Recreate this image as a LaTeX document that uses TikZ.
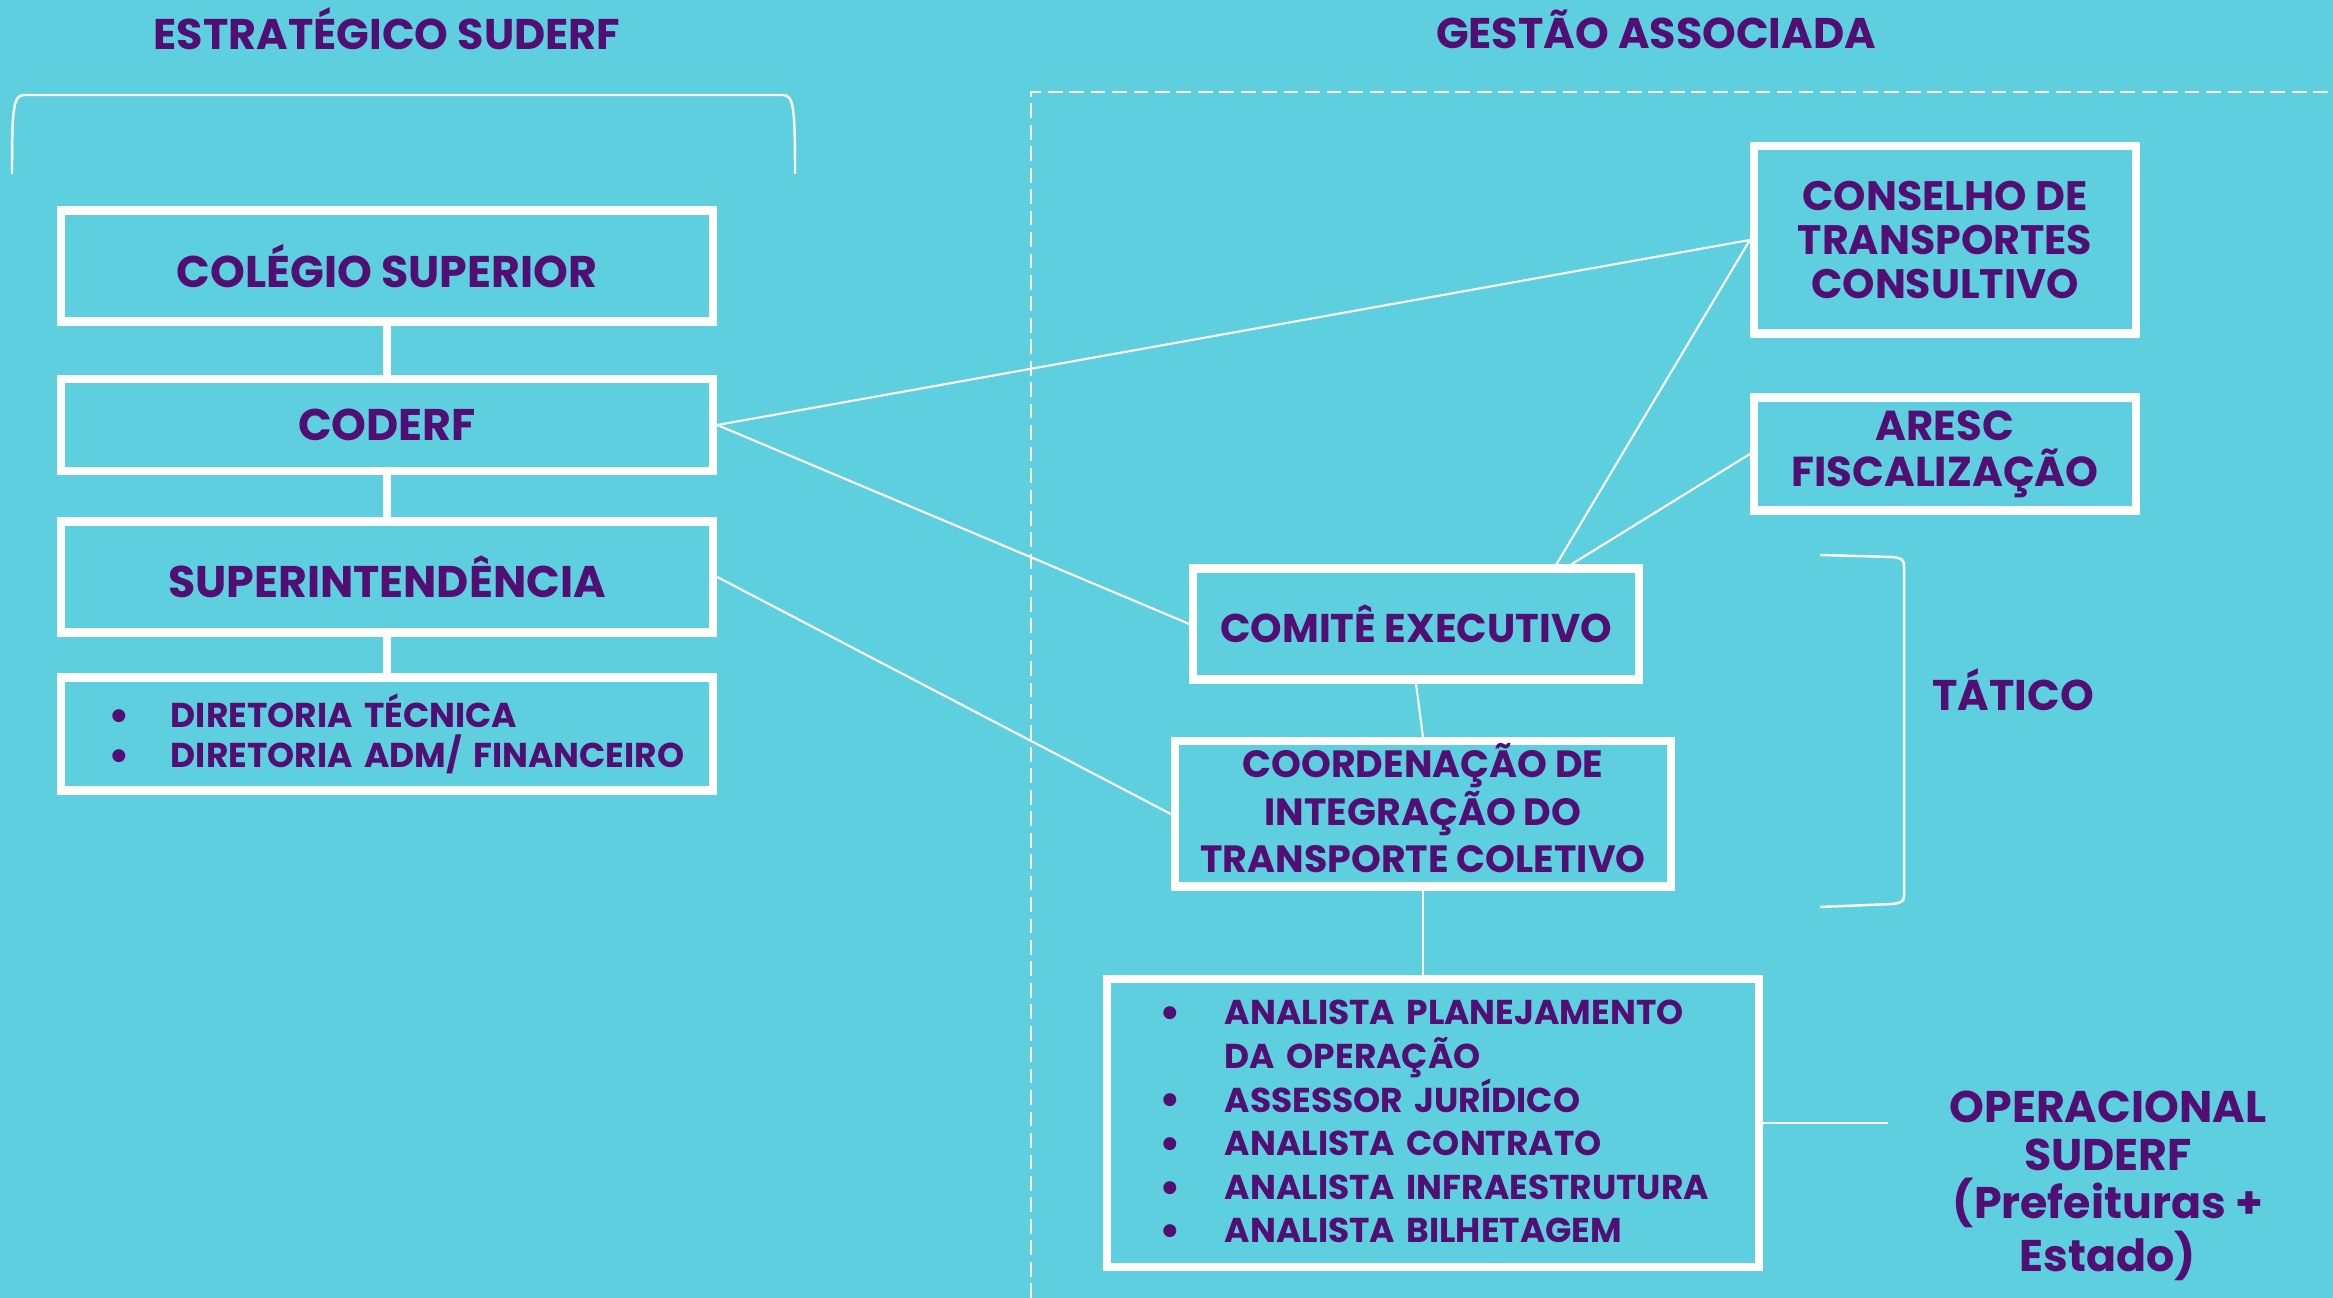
\documentclass[tikz,border=0pt]{standalone}
\usepackage{fontspec}
\setmainfont{Poppins}
\definecolor{fundo}{RGB}{94,207,223}
\definecolor{roxo}{RGB}{82,14,115}
\tikzset{
	caixa/.style={draw=white, line width=2.3pt, text=roxo, inner sep=0pt, align=center,
		font=\bfseries\fontsize{11.7}{12.4}\selectfont},
	grande/.style={font=\bfseries\fontsize{12.6}{14}\selectfont},
	lista/.style={caixa, align=left},
	fio/.style={draw=white, line width=0.6pt},
	haste/.style={draw=white, line width=2pt},
	titulo/.style={text=roxo, align=center, font=\bfseries\fontsize{12.2}{13.6}\selectfont}
}
\newcommand{\marca}[2]{\mbox{\makebox[#1][l]{\raisebox{-0.08em}{\scalebox{1.25}{\textbullet}}}#2}}

\begin{document}
\begin{tikzpicture}[x=0.01cm,y=-0.01cm]
	\fill[fundo] (0,0) rectangle (2333,1298);
	\useasboundingbox (0,0) rectangle (2333,1298);
	% titulos
	\node[titulo] (estrat) at (387,29) {ESTRATÉGICO SUDERF};
	\node[titulo] (gestao) at (1656,29) {GESTÃO ASSOCIADA};
	\draw[white, line width=0.7pt] (12,174) .. controls (12,110) and (13,95) .. (24,95) -- (783,95)
		.. controls (794,95) and (795,110) .. (795,174);
	\draw[white, line width=0.6pt, dash pattern=on 4.2pt off 1.9pt] (1031,1298) -- (1031,92) -- (2333,92);
	% lado estrategico
	\node[caixa, grande, minimum width=6.52cm, minimum height=1.11cm] (colegio) at (387,266) {COLÉGIO SUPERIOR};
	\node[caixa, grande, minimum width=6.52cm, minimum height=0.92cm] (coderf) at (387,425) {CODERF};
	\node[caixa, grande, minimum width=6.52cm, minimum height=1.11cm] (superint) at (387,577) {SUPERINTENDÊNCIA};
	\node[lista, minimum height=1.13cm, text width=5.56cm, inner xsep=0.48cm,
		font=\bfseries\fontsize{9.8}{11.2}\selectfont] (diretoria) at (387,734)
		{\marca{0.62cm}{DIRETORIA TÉCNICA}\\ \marca{0.62cm}{DIRETORIA ADM/ FINANCEIRO}};
	\draw[haste] (colegio) -- (coderf);
	\draw[haste] (coderf) -- (superint);
	\draw[haste] (superint) -- (diretoria);
	% gestao associada
	\node[caixa, minimum width=3.82cm, minimum height=1.87cm] (conselho) at (1945,240) {CONSELHO DE\\TRANSPORTES\\CONSULTIVO};
	\node[caixa, minimum width=3.82cm, minimum height=1.13cm,
		font=\bfseries\fontsize{11.9}{13.2}\selectfont] (aresc) at (1945,454) {ARESC\\FISCALIZAÇÃO};
	\node[caixa, minimum width=4.45cm, minimum height=1.11cm,
		font=\bfseries\fontsize{11.4}{12.4}\selectfont] (comite) at (1416,624) {COMITÊ EXECUTIVO};
	\node[caixa, minimum width=4.96cm, minimum height=1.45cm,
		font=\bfseries\fontsize{10.8}{13.6}\selectfont] (coord) at (1423,814)
		{COORDENAÇÃO DE\\INTEGRAÇÃO DO\\TRANSPORTE COLETIVO\\[-0.36cm]};
	\node[lista, minimum height=2.87cm, text width=5.46cm, inner xsep=0.53cm,
		font=\bfseries\fontsize{9.8}{12.4}\selectfont] (analistas) at (1433,1123)
		{\marca{0.65cm}{ANALISTA PLANEJAMENTO}\\ \mbox{\makebox[0.65cm]{}DA OPERAÇÃO}\\
		\marca{0.65cm}{ASSESSOR JURÍDICO}\\ \marca{0.65cm}{ANALISTA CONTRATO}\\
		\marca{0.65cm}{ANALISTA INFRAESTRUTURA}\\ \marca{0.65cm}{ANALISTA BILHETAGEM}};
	\node[titulo] (tatico) at (2013,690) {TÁTICO};
	\node[titulo, font=\bfseries\fontsize{12.6}{13.6}\selectfont] (operac) at (2108,1186)
		{OPERACIONAL\\SUDERF\\(Prefeituras +\\Estado)};
	\coordinate (fimop) at (1888,1123);
	\draw[white, line width=0.7pt] (1820,555) -- (1892,557) .. controls (1902,558) and (1904,560) .. (1904,566)
		-- (1904,896) .. controls (1904,902) and (1900,903) .. (1892,904) -- (1820,907);
	% ligacoes
	\draw[fio] (coderf.east) -- (conselho.west);
	\draw[fio] (coderf.east) -- (comite.west);
	\draw[fio] (superint.east) -- (coord.west);
	\draw[fio] (comite.23) -- (conselho.west);
	\draw[fio] (comite.21) -- (aresc.west);
	\draw[fio] (comite.south) -- (coord.north);
	\draw[fio] (coord.south) -- (coord.south |- analistas.north);
	\draw[fio] (analistas.east) -- (fimop);
\end{tikzpicture}
\end{document}
